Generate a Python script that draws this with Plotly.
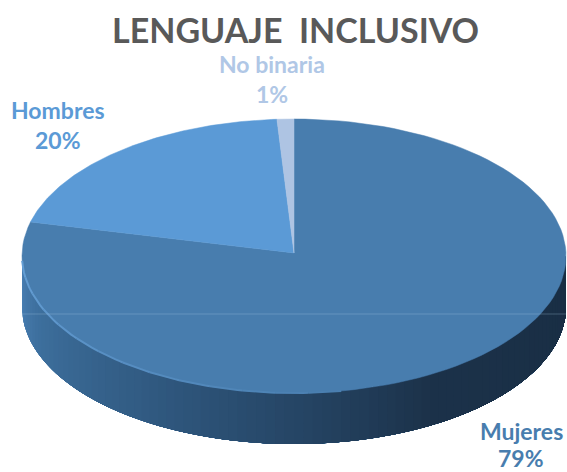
import numpy as np
import plotly.graph_objects as go

labels = ['Mujeres', 'Hombres', 'No binaria']
values = [79, 20, 1]
colors = ['#487dae', '#5b9ad6', '#aec4e3']
label_colors = ['#487dae', '#5b9ad6', '#b0c7e6']

TITLE = 'LENGUAJE  INCLUSIVO'
W, H = 567, 472
CX, CY, RX, RY = 294, 256, 272, 137
APEX_Y = 253
DEPTH = 51


def ellipse_pts(a0, a1, n=120, dy=0):
    """Angles in degrees, clockwise from 12 o'clock, as on a pie."""
    t = np.radians(np.linspace(a0, a1, n))
    return CX + RX * np.sin(t), CY - RY * np.cos(t) + dy


def mix(c1, c2, f):
    return 'rgb(%d,%d,%d)' % tuple(int(a + (b - a) * f) for a, b in zip(c1, c2))


fig = go.Figure()

# side wall of the pie, each band runs on to the right edge so no seams show
side_stops = [(270, (74, 128, 182)), (250, (62, 112, 158)), (215, (50, 92, 132)),
              (180, (38, 70, 102)), (150, (28, 50, 74)), (90, (25, 46, 68))]
band_angles = np.linspace(270, 90, 91)
for a0, a1 in zip(band_angles[:-1], band_angles[1:]):
    mid = (a0 + a1) / 2
    col = None
    for (s0, c0), (s1, c1) in zip(side_stops[:-1], side_stops[1:]):
        if s1 <= mid <= s0:
            col = mix(c0, c1, (s0 - mid) / (s0 - s1))
    xt, yt = ellipse_pts(a0, 90, 90)
    xb, yb = ellipse_pts(90, a0, 90, dy=DEPTH)
    fig.add_trace(go.Scatter(x=np.r_[xt, xb], y=np.r_[yt, yb], fill='toself', mode='lines',
                             fillcolor=col, line=dict(width=0),
                             hoverinfo='skip', showlegend=False))

# top of the pie, slices run clockwise from 12 o'clock
start = 0
for label, value, color in zip(labels, values, colors):
    end = start + value / sum(values) * 360
    ex, ey = ellipse_pts(start, end)
    fig.add_trace(go.Scatter(x=np.r_[CX, ex, CX], y=np.r_[APEX_Y, ey, APEX_Y], fill='toself', mode='lines',
                             fillcolor=color, line=dict(color=color, width=0.5),
                             name=label, hoverinfo='name', showlegend=False))
    start = end

# light bevel along the front left rim, fading out towards the bottom
rim_angles = np.linspace(268, 170, 15)
for a0, a1 in zip(rim_angles[:-1], rim_angles[1:]):
    f = (268 - a0) / 98
    rx, ry = ellipse_pts(a0, a1, 8)
    fig.add_trace(go.Scatter(x=rx, y=ry, mode='lines',
                             line=dict(color=mix((100, 158, 212), (72, 125, 174), f), width=2),
                             hoverinfo='skip', showlegend=False))

# faint horizontal seam across the pie
fig.add_shape(type='line', x0=22, x1=566, y0=314, y1=314,
              line=dict(color='rgba(170,200,225,0.3)', width=1))

label_pos = [(521, 431), (58, 110), (272, 64)]
for (lx, ly), label, value, color in zip(label_pos, labels, values, label_colors):
    fig.add_annotation(x=lx, y=ly, text=f'<b>{label}</b>', showarrow=False,
                       font=dict(family='Lato', size=23, color=color))
    fig.add_annotation(x=lx, y=min(ly + 30, 458), text=f'<b>{value}%</b>', showarrow=False,
                       font=dict(family='Lato', size=23, color=color))

fig.add_annotation(x=295, y=29, text=f'<b>{TITLE}</b>', showarrow=False,
                   font=dict(family='Lato', size=34, color='#595959'))

fig.update_xaxes(range=[0, W], visible=False, fixedrange=True)
fig.update_yaxes(range=[H, 0], visible=False, fixedrange=True)
fig.update_layout(width=W, height=H, margin=dict(l=0, r=0, t=0, b=0),
                  paper_bgcolor='white', plot_bgcolor='white', showlegend=False)
fig.write_html("out.html", config=dict(displayModeBar=False),
               post_script="document.body.style.margin='0';")
